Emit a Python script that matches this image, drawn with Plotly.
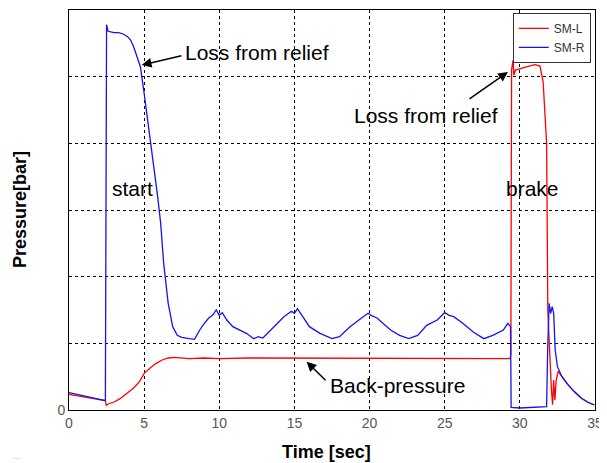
import plotly.graph_objects as go

# ---- data (y in grid units, 6 divisions) ----
t_R = [0, 2.42, 2.45, 2.47, 2.5, 2.6, 2.8, 3.0, 3.3, 3.6, 3.9, 4.1, 4.3, 4.55, 4.75, 5.0, 5.3,
       5.6, 5.9, 6.1, 6.3, 6.6, 6.9, 7.2, 7.5, 8.0, 8.35, 8.7, 9.0, 9.3, 9.55, 9.8, 10.0, 10.2,
       10.5, 10.9, 11.3, 11.8, 12.3, 12.6, 12.9, 13.2, 13.5, 13.9, 14.3, 14.8, 15.0, 15.2, 15.4,
       16.0, 16.7, 17.5, 18.0, 18.7, 19.4, 19.9, 20.1, 20.5, 21.0, 21.4, 22.0, 22.6, 23.2, 23.8,
       24.5, 25.0, 25.3, 25.6, 26.2, 26.9, 27.6, 28.2, 28.9, 29.2, 29.38, 29.42, 30.0, 31.0,
       31.78, 31.85, 31.95, 32.05, 32.15, 32.25, 32.35, 32.5, 32.8, 33.2, 33.6, 34.1, 34.5, 34.95]
p_R = [0.26, 0.14, 2.2, 4.8, 5.78, 5.68, 5.67, 5.66, 5.66, 5.64, 5.6, 5.55, 5.45, 5.3, 5.15,
       4.75, 4.25, 3.7, 3.2, 2.8, 2.2, 1.6, 1.25, 1.12, 1.09, 1.07, 1.06, 1.2, 1.3, 1.38, 1.42,
       1.5, 1.42, 1.46, 1.35, 1.25, 1.2, 1.15, 1.07, 1.1, 1.08, 1.15, 1.22, 1.3, 1.4, 1.48, 1.45,
       1.52, 1.45, 1.25, 1.15, 1.07, 1.1, 1.25, 1.37, 1.45, 1.42, 1.38, 1.28, 1.2, 1.12, 1.07,
       1.12, 1.27, 1.35, 1.46, 1.42, 1.4, 1.3, 1.17, 1.07, 1.12, 1.2, 1.3, 1.25, 0.04, 0.03,
       0.04, 0.05, 0.9, 1.6, 1.45, 1.55, 1.45, 0.9, 0.65, 0.5, 0.38, 0.28, 0.175, 0.12, 0.075]

t_L = [0, 2.42, 2.48, 2.6, 3.0, 3.4, 3.8, 4.3, 4.7, 5.0, 5.4, 5.8, 6.2, 6.6, 7.0, 8.0, 9.0,
       10.0, 12.0, 14.0, 16.0, 18.0, 20.0, 22.0, 24.0, 26.0, 28.0, 29.35, 29.4, 29.45, 29.55,
       29.6, 29.7, 30.1, 30.5, 31.0, 31.34, 31.55, 31.78, 31.86, 31.9, 32.0, 32.1, 32.18, 32.25,
       32.33, 32.42, 32.55, 32.8, 33.2, 33.6, 34.1, 34.5, 34.95]
p_L = [0.235, 0.14, 0.07, 0.09, 0.12, 0.17, 0.24, 0.33, 0.43, 0.55, 0.63, 0.7, 0.75, 0.78,
       0.79, 0.77, 0.78, 0.77, 0.78, 0.78, 0.775, 0.78, 0.775, 0.78, 0.775, 0.78, 0.775, 0.77,
       0.84, 5.1, 5.25, 5.02, 5.1, 5.12, 5.15, 5.18, 5.16, 4.92, 4.0, 1.5, 1.2, 0.8, 0.3, 0.08,
       0.45, 0.15, 0.45, 0.58, 0.5, 0.38, 0.28, 0.175, 0.12, 0.075]

x_ticks = [0, 5, 10, 15, 20, 25, 30, 35]
y_ticks = [0, 1, 2, 3, 4, 5, 6]
y_ticktext = ["0", "", "", "", "", "", ""]

fig = go.Figure()
fig.add_trace(go.Scatter(x=t_L, y=p_L, mode="lines", name="SM-L",
                         line=dict(color="rgb(255,0,0)", width=1.3)))
fig.add_trace(go.Scatter(x=t_R, y=p_R, mode="lines", name="SM-R",
                         line=dict(color="rgb(20,20,235)", width=1.3)))

axis_common = dict(showline=True, linecolor="black", linewidth=1, mirror=True,
                   showgrid=True, gridcolor="black", griddash="dot", gridwidth=1,
                   zeroline=False, ticks="", tickfont=dict(family="Liberation Sans", size=14, color="#555"))
fig.update_xaxes(range=[0, 35], tickvals=x_ticks, **axis_common)
fig.update_yaxes(range=[0, 6], tickvals=y_ticks, ticktext=y_ticktext, **axis_common)

txt = dict(family="Liberation Sans", size=21, color="black")
ann = [
    dict(x=12.54, y=5.37, text="Loss from relief", showarrow=False, font=txt),
    dict(x=23.75, y=4.42, text="Loss from relief", showarrow=False, font=txt),
    dict(x=4.2, y=3.33, text="start", showarrow=False, font=txt),
    dict(x=30.87, y=3.33, text="brake", showarrow=False, font=txt),
    dict(x=21.86, y=0.375, text="Back-pressure", showarrow=False, font=txt),
    # arrows
    dict(x=4.84, y=5.175, ax=7.58, ay=5.32, axref="x", ayref="y", text="", showarrow=True,
         arrowhead=2, arrowsize=1.3, arrowwidth=1.5, arrowcolor="black"),
    dict(x=29.21, y=5.07, ax=26.55, ay=4.65, axref="x", ayref="y", text="", showarrow=True,
         arrowhead=2, arrowsize=1.3, arrowwidth=1.5, arrowcolor="black"),
    dict(x=15.81, y=0.725, ax=17.17, ay=0.425, axref="x", ayref="y", text="", showarrow=True,
         arrowhead=2, arrowsize=1.3, arrowwidth=1.5, arrowcolor="black"),
    # axis titles
    dict(xref="paper", yref="paper", x=-0.093, y=0.5, xanchor="center", yanchor="middle",
         text="<b>Pressure[bar]</b>", textangle=-90,
         showarrow=False, font=dict(family="Liberation Sans", size=18, color="black")),
    dict(xref="paper", yref="paper", x=0.49, y=-0.105, xanchor="center", yanchor="middle",
         text="<b>Time [sec]</b>",
         showarrow=False, font=dict(family="Liberation Sans", size=18, color="black")),
    dict(xref="paper", yref="paper", x=-0.11, y=-0.115, xanchor="left", yanchor="middle",
         text="....", showarrow=False,
         font=dict(family="Liberation Sans", size=7, color="#aaa")),
]

# page body has an 8px margin, so the figure is sized/offset to compensate
fig.update_layout(
    width=599, height=455,
    margin=dict(l=61, r=12, t=2, b=53),
    paper_bgcolor="white", plot_bgcolor="white",
    annotations=ann,
    legend=dict(x=0.992, y=0.993, xanchor="right", yanchor="top", bgcolor="white",
                bordercolor="#333", borderwidth=1,
                font=dict(family="Liberation Sans", size=12, color="#333"),
                itemwidth=30, tracegroupgap=0),
    showlegend=True,
)

fig.write_html("out.html")
